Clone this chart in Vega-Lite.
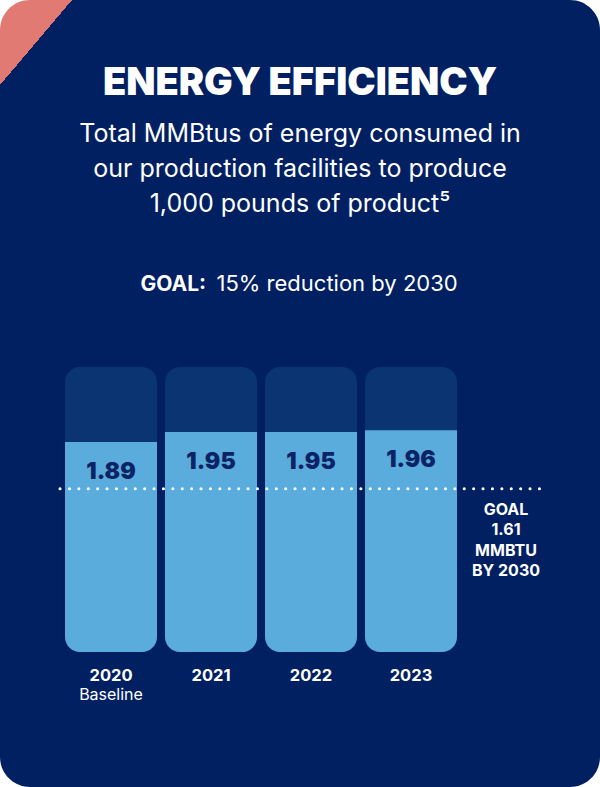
{
  "$schema": "https://vega.github.io/schema/vega-lite/v6.json",
  "width": 600,
  "height": 787,
  "autosize": {"type": "none"},
  "padding": 0,
  "background": "#ffffff",
  "title": {
    "text": "ENERGY EFFICIENCY",
    "subtitle": ["Total MMBtus of energy consumed in", "our production facilities to produce", "1,000 pounds of product⁵"],
    "orient": "bottom",
    "frame": "group",
    "anchor": "middle",
    "offset": -722,
    "font": "Inter",
    "fontSize": 38,
    "fontWeight": 900,
    "color": "#ffffff",
    "subtitleFont": "Inter",
    "subtitleFontSize": 25,
    "subtitleFontWeight": 400,
    "subtitleColor": "#ffffff",
    "subtitleLineHeight": 35,
    "subtitlePadding": 19
  },
  "data": {
    "values": [
      {"year": "2020", "value": 1.89, "note": "Baseline"},
      {"year": "2021", "value": 1.95, "note": ""},
      {"year": "2022", "value": 1.95, "note": ""},
      {"year": "2023", "value": 1.96, "note": ""}
    ]
  },
  "resolve": {"axis": {"x": "independent"}},
  "layer": [
    {
      "mark": {"type": "bar", "color": "#0b3572", "cornerRadius": 15},
      "encoding": {
        "x": {
          "field": "year",
          "type": "nominal",
          "scale": {"domain": ["2020", "2021", "2022", "2023", "goal"], "range": [65, 557], "paddingInner": 0.08, "paddingOuter": 0},
          "axis": {
            "orient": "top",
            "labels": false,
            "ticks": false,
            "domain": false,
            "grid": false,
            "title": "GOAL:",
            "titleX": 140,
            "titleY": 290,
            "titleAlign": "left",
            "titleAnchor": "start",
            "titleBaseline": "alphabetic",
            "titleFont": "Inter",
            "titleFontWeight": "bold",
            "titleFontSize": 21,
            "titleColor": "#ffffff"
          }
        },
        "y": {"datum": 2.34, "type": "quantitative", "scale": {"domain": [0.63, 2.34], "range": [652, 367], "nice": false, "zero": false}, "axis": null},
        "y2": {"datum": 0.63}
      }
    },
    {
      "mark": {"type": "bar", "color": "#5aacdc", "cornerRadiusBottomLeft": 15, "cornerRadiusBottomRight": 15},
      "encoding": {
        "x": {
          "field": "year",
          "type": "nominal",
          "axis": {
            "orient": "bottom",
            "offset": -135,
            "labelExpr": "datum.value == 'goal' ? '' : datum.value",
            "labelAngle": 0,
            "labelFont": "Inter",
            "labelFontWeight": "bold",
            "labelFontSize": 16.5,
            "labelColor": "#ffffff",
            "labelPadding": 15,
            "ticks": false,
            "domain": false,
            "grid": false,
            "title": "15% reduction by 2030",
            "titleX": 216,
            "titleY": -362,
            "titleAlign": "left",
            "titleAnchor": "start",
            "titleBaseline": "alphabetic",
            "titleFont": "Inter",
            "titleFontWeight": "normal",
            "titleFontSize": 22,
            "titleColor": "#ffffff"
          }
        },
        "y": {"field": "value", "type": "quantitative", "axis": null},
        "y2": {"datum": 0.63}
      }
    },
    {
      "mark": {"type": "text", "font": "Inter", "fontWeight": 900, "fontSize": 23, "color": "#0c2466", "baseline": "alphabetic", "dy": 37},
      "encoding": {
        "x": {"field": "year", "type": "nominal", "axis": null},
        "y": {"field": "value", "type": "quantitative", "axis": null},
        "text": {"field": "value", "type": "quantitative", "format": ".2f"}
      }
    },
    {
      "mark": {"type": "text", "font": "Inter", "fontWeight": 400, "fontSize": 16, "color": "#ffffff", "baseline": "alphabetic", "dy": 48},
      "encoding": {
        "x": {"field": "year", "type": "nominal", "axis": null},
        "y": {"datum": 0.63, "type": "quantitative", "axis": null},
        "text": {"field": "note", "type": "nominal"}
      }
    },
    {
      "data": {"values": [{"x": "goal", "goal": 1.61, "label": "GOAL\n1.61\nMMBTU\nBY 2030"}]},
      "mark": {"type": "rule", "color": "#ffffff", "strokeWidth": 3, "strokeCap": "round", "strokeDash": [0.1, 9.3], "xOffset": -5, "x2Offset": 30},
      "encoding": {
        "x": {"datum": "2020", "type": "nominal", "bandPosition": 0, "axis": null},
        "x2": {"datum": "goal"},
        "y": {"field": "goal", "type": "quantitative", "axis": null}
      }
    },
    {
      "data": {"values": [{"x": "goal", "goal": 1.61, "label": "GOAL\n1.61\nMMBTU\nBY 2030"}]},
      "mark": {"type": "text", "font": "Inter", "fontWeight": "bold", "fontSize": 16, "color": "#ffffff", "baseline": "alphabetic", "align": "center", "lineBreak": "\n", "lineHeight": 20.5, "letterSpacing": 1.5, "dy": 26, "dx": -5},
      "encoding": {
        "x": {"field": "x", "type": "nominal", "axis": null},
        "y": {"field": "goal", "type": "quantitative", "axis": null},
        "text": {"field": "label", "type": "nominal"}
      }
    }
  ],
  "config": {
    "view": {
      "stroke": null,
      "cornerRadius": 30,
      "fill": {
        "gradient": "linear",
        "x1": 0, "y1": 0, "x2": 0.1074, "y2": 0.1193,
        "stops": [
          {"offset": 0, "color": "#e07a73"},
          {"offset": 0.5, "color": "#e07a73"},
          {"offset": 0.5, "color": "#002062"},
          {"offset": 1, "color": "#002062"}
        ]
      }
    }
  }
}
